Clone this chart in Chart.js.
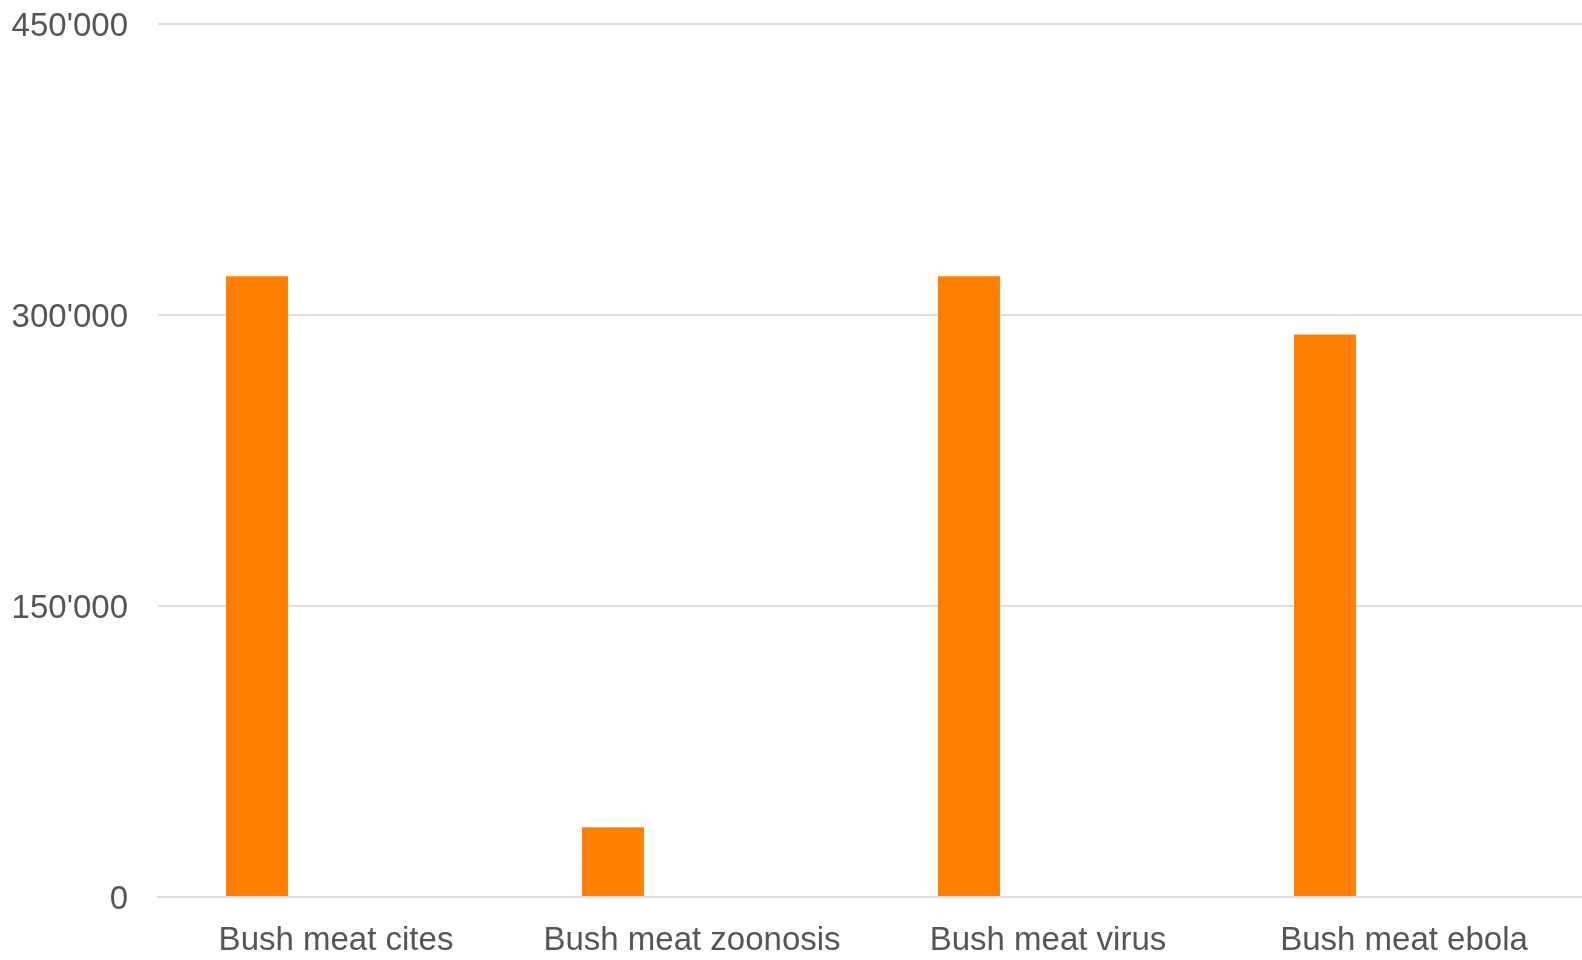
<!DOCTYPE html>
<html>
<head>
<meta charset="utf-8">
<style>
  html, body { margin: 0; padding: 0; background: #fff; }
  #wrap { width: 1582px; height: 960px; }
</style>
<script src="https://cdn.jsdelivr.net/npm/chart.js@4/dist/chart.umd.min.js"></script>
</head>
<body>
<div id="wrap"><canvas id="chart" width="1582" height="960"></canvas></div>
<script>
// ---------- Daten ----------
const categories = ['Bush meat cites', 'Bush meat zoonosis', 'Bush meat virus', 'Bush meat ebola'];
const searchResults = [320000, 36000, 320000, 290000];
const emptySeries = [null, null, null, null]; // leere zweite Reihe, haelt den Platz rechts frei
const yTicks = [0, 150000, 300000, 450000];

const fmt = v => String(v).replace(/\B(?=(\d{3})+(?!\d))/g, "'");

const font = { family: '"Liberation Sans", Arial, sans-serif', size: 33 };
const textColor = '#555555';
const gridColor = '#dedede';

new Chart(document.getElementById('chart').getContext('2d'), {
  type: 'bar',
  data: {
    labels: categories,
    datasets: [
      { data: searchResults, backgroundColor: '#ff7f00', categoryPercentage: 0.888, barPercentage: 0.392 },
      { data: emptySeries, backgroundColor: '#ffffff', categoryPercentage: 0.888, barPercentage: 0.392 }
    ]
  },
  options: {
    responsive: false,
    animation: false,
    layout: { padding: { top: 24, left: 0, right: 0, bottom: 0 } },
    plugins: { legend: { display: false }, tooltip: { enabled: false } },
    scales: {
      x: {
        grid: { display: false, drawTicks: false },
        border: { display: true, color: gridColor, width: 2 },
        ticks: { color: textColor, font, padding: 24, maxRotation: 0 },
        afterFit: s => { s.height = 63; s.paddingLeft = 0; s.paddingRight = 0; }
      },
      y: {
        min: 0, max: 450000,
        afterBuildTicks: s => { s.ticks = yTicks.map(v => ({ value: v })); },
        grid: { color: gridColor, lineWidth: 2, drawTicks: false },
        border: { display: false },
        ticks: { color: textColor, font, padding: 30, labelOffset: 3, callback: v => fmt(v) },
        afterFit: s => { s.width = 158; s.paddingTop = 0; s.paddingBottom = 0; }
      }
    }
  }
});
</script>
</body>
</html>
